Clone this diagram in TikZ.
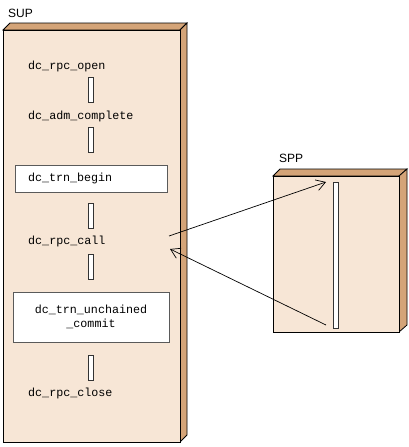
\documentclass[tikz,border=0pt]{standalone}
\usepackage{fontspec}
\setmainfont{Liberation Sans}
\newfontfamily\codefont{Liberation Mono}
\usetikzlibrary{arrows.meta,positioning}
\definecolor{procFront}{RGB}{247,230,214}
\definecolor{procSide}{RGB}{212,164,120}
\definecolor{boxGray}{RGB}{90,90,90}
\tikzset{
  fn/.style={font=\codefont\fontsize{11.7}{14}\selectfont, anchor=west, inner sep=0pt},
  fnbox/.style={draw=boxGray, fill=white, line width=0.8pt, font=\codefont\fontsize{11.7}{14}\selectfont},
  lifebar/.style={draw=black!80, fill=white, line width=0.7pt, minimum width=5pt, inner sep=0pt},
  msg/.style={line width=0.7pt, -{Straight Barb[length=9pt,width=11pt,line width=0.7pt]}}
}

\begin{document}
\begin{tikzpicture}[x=1pt,y=-1pt]
\useasboundingbox (0,0) rectangle (409,447);
% SUP block
\filldraw[procSide, draw=black, line width=0.8pt] (3,30) -- (10,23) -- (187,23) -- (180,30) -- cycle;
\filldraw[procSide, draw=black, line width=0.8pt] (180,30) -- (187,23) -- (187,435) -- (180,442) -- cycle;
\filldraw[procFront, draw=black, line width=0.8pt] (3,30) rectangle (180,442);
\node[anchor=south west, inner sep=0pt, font=\fontsize{12}{14}\selectfont] (supLabel) at (8,18) {SUP};

\node[fn] (rpcOpen) at (28,66) {dc\_rpc\_open};
\node[lifebar, minimum height=25pt] (bar1) at (91,90) {};
\node[fn] (admComplete) at (28,116) {dc\_adm\_complete};
\node[lifebar, minimum height=25pt] (bar2) at (91,140) {};
\node[fnbox, minimum width=152pt, minimum height=27pt, inner xsep=13pt, text width=126pt] (trnBegin) at (91,178.5) {dc\_trn\_begin};
\node[lifebar, minimum height=25pt] (bar3) at (91,215.5) {};
\node[fn] (rpcCall) at (28,241) {dc\_rpc\_call};
\node[lifebar, minimum height=25pt] (bar4) at (91,266.5) {};
\node[fnbox, minimum width=156pt, minimum height=50pt, align=center] (unchained) at (91,317) {dc\_trn\_unchained\\\_commit};
\node[lifebar, minimum height=25pt] (bar5) at (91,367.5) {};
\node[fn] (rpcClose) at (28,393) {dc\_rpc\_close};

% SPP block
\filldraw[procSide, draw=black, line width=0.8pt] (273,176) -- (280,169) -- (407,169) -- (399,176) -- cycle;
\filldraw[procSide, draw=black, line width=0.8pt] (399,176) -- (407,169) -- (407,325) -- (399,332) -- cycle;
\filldraw[procFront, draw=black, line width=0.8pt] (273,176) rectangle (399,332);
\node[anchor=south west, inner sep=0pt, font=\fontsize{12}{14}\selectfont] (sppLabel) at (279,163) {SPP};
\node[lifebar, minimum height=146pt] (sppBar) at (335.5,255) {};

% messages
\coordinate (callOut) at (169,236);
\coordinate (sppIn) at (326,182);
\coordinate (sppOut) at (326,325);
\coordinate (callIn) at (170,249);
\draw[msg] (callOut) -- (sppIn);
\draw[msg] (sppOut) -- (callIn);
\end{tikzpicture}
\end{document}
